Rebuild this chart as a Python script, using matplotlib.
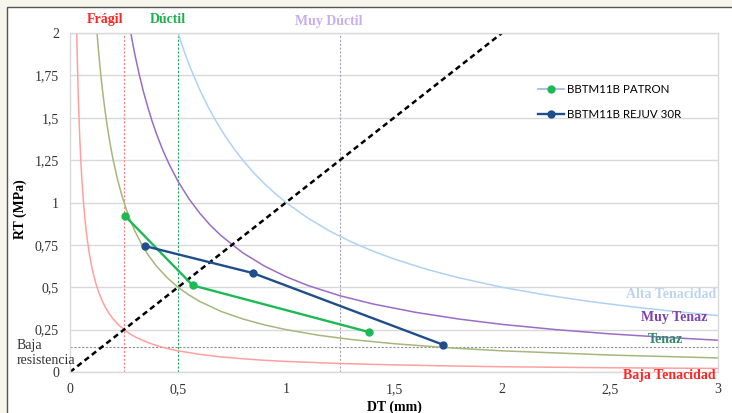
import matplotlib
matplotlib.use("Agg")
import matplotlib.pyplot as plt
from matplotlib.patches import Rectangle
from matplotlib.lines import Line2D
from matplotlib.ticker import FuncFormatter

# ensayo: DT (mm) y RT (MPa)
dt_patron = [0.255, 0.568, 1.383]
rt_patron = [0.92, 0.511, 0.236]
dt_rejuv = [0.347, 0.846, 1.727]
rt_rejuv = [0.743, 0.584, 0.161]

# curvas de tenacidad
dt_baja = [0.03, 0.0325, 0.035, 0.0375, 0.04, 0.0425, 0.045, 0.0475, 0.05, 0.055, 0.06,
           0.065, 0.07, 0.075, 0.08, 0.09, 0.1, 0.11, 0.12, 0.135, 0.15, 0.165, 0.18,
           0.2, 0.225, 0.25, 0.275, 0.3, 0.35, 0.4, 0.45, 0.5, 0.6, 0.7, 0.8, 0.9, 1.0,
           1.25, 1.5, 1.75, 2.0, 2.5, 3.0]
rt_baja = [2.083, 1.923, 1.786, 1.667, 1.563, 1.471, 1.389, 1.316, 1.25, 1.136, 1.042,
           0.962, 0.893, 0.833, 0.781, 0.694, 0.625, 0.568, 0.521, 0.463, 0.417, 0.379,
           0.347, 0.3125, 0.278, 0.25, 0.227, 0.208, 0.179, 0.156, 0.139, 0.125, 0.104,
           0.089, 0.078, 0.069, 0.0625, 0.05, 0.042, 0.036, 0.031, 0.025, 0.021]
dt_tenaz = [0.12, 0.13, 0.14, 0.15, 0.16, 0.17, 0.18, 0.19, 0.2, 0.22, 0.24, 0.26, 0.28,
            0.3, 0.33, 0.36, 0.4, 0.45, 0.5, 0.55, 0.6, 0.7, 0.8, 0.9, 1.0, 1.15, 1.3,
            1.5, 1.75, 2.0, 2.5, 3.0]
rt_tenaz = [2.083, 1.923, 1.786, 1.667, 1.563, 1.471, 1.389, 1.316, 1.25, 1.136, 1.042,
            0.962, 0.893, 0.833, 0.758, 0.694, 0.625, 0.556, 0.5, 0.455, 0.417, 0.357,
            0.313, 0.278, 0.25, 0.217, 0.192, 0.167, 0.143, 0.125, 0.1, 0.083]
dt_muy_tenaz = [0.28, 0.3, 0.32, 0.34, 0.36, 0.38, 0.4, 0.43, 0.46, 0.5, 0.55, 0.6, 0.65,
                0.7, 0.8, 0.9, 1.0, 1.1, 1.25, 1.4, 1.6, 1.8, 2.0, 2.25, 2.5, 2.75, 3.0]
rt_muy_tenaz = [2.009, 1.875, 1.758, 1.654, 1.563, 1.480, 1.406, 1.308, 1.223, 1.125,
                1.023, 0.938, 0.865, 0.804, 0.703, 0.625, 0.5625, 0.511, 0.45, 0.402,
                0.352, 0.3125, 0.281, 0.25, 0.225, 0.205, 0.1875]
dt_alta = [0.5, 0.53, 0.56, 0.6, 0.64, 0.68, 0.72, 0.76, 0.8, 0.85, 0.9, 0.95, 1.0, 1.1,
           1.2, 1.3, 1.4, 1.5, 1.65, 1.8, 2.0, 2.2, 2.4, 2.6, 2.8, 3.0]
rt_alta = [2.0, 1.887, 1.786, 1.667, 1.563, 1.471, 1.389, 1.316, 1.25, 1.176, 1.111,
           1.053, 1.0, 0.909, 0.833, 0.769, 0.714, 0.667, 0.606, 0.556, 0.5, 0.455,
           0.417, 0.385, 0.357, 0.333]

dt_diag = [0, 2]
rt_diag = [0, 2]

lim_fragil = 0.25
lim_ductil = 0.5
lim_muy_ductil = 1.25
lim_baja_res = 0.15

x_ticks = [0, 0.5, 1, 1.5, 2, 2.5, 3]
y_ticks = [0, 0.25, 0.5, 0.75, 1, 1.25, 1.5, 1.75, 2]

serif = "Liberation Serif"
sans = "Lato"

fig = plt.figure(figsize=(7.32, 4.13), dpi=100)
fig.patch.set_facecolor("#f6f6ec")
fig.patches.append(Rectangle((7 / 732, -0.1), 1.1, (413 - 7) / 413 + 0.1,
                             transform=fig.transFigure, facecolor="white",
                             edgecolor="#555555", lw=1.0, zorder=-10))

ax = fig.add_axes([70 / 732, 41 / 413, 648 / 732, 339 / 413])
ax.set_facecolor("none")
ax.set_xlim(0, 3)
ax.set_ylim(0, 2)
ax.set_xticks(x_ticks)
ax.set_yticks(y_ticks)
fmt = FuncFormatter(lambda v, p: ("%g" % v).replace(".", ","))
ax.xaxis.set_major_formatter(fmt)
ax.yaxis.set_major_formatter(fmt)
ax.tick_params(length=0, labelsize=10, pad=8)
for lab in ax.get_xticklabels() + ax.get_yticklabels():
    lab.set_fontfamily(serif)
    lab.set_color("#333333")
ax.grid(axis="y", color="#d9d9d9", lw=1.0)
for s in ax.spines.values():
    s.set_color("#d9d9d9")
    s.set_linewidth(1.0)

# lineas limite
ax.axvline(lim_fragil, color="#ff8080", ls=(0, (2, 1.5)), lw=0.8)
ax.axvline(lim_ductil, color="#20a860", ls=(0, (2, 1.5)), lw=0.8)
ax.axvline(lim_muy_ductil, color="#a8a0b8", ls=(0, (2, 1.5)), lw=0.8)
ax.axhline(lim_baja_res, color="#909090", ls=(0, (2, 1.5)), lw=0.8)

kw = dict(lw=1.1, solid_joinstyle="round")
ax.plot(dt_baja, rt_baja, color="#ffa0a0", **kw)
ax.plot(dt_tenaz, rt_tenaz, color="#a8b67c", **kw)
ax.plot(dt_muy_tenaz, rt_muy_tenaz, color="#9b6cc6", **kw)
ax.plot(dt_alta, rt_alta, color="#aed2f6", **kw)

ax.plot(dt_diag, rt_diag, color="black", lw=1.8, ls=(0, (2.2, 1.5)))

ax.plot(dt_patron, rt_patron, color="#1db954", lw=1.7, marker="o", ms=5)
ax.plot(dt_rejuv, rt_rejuv, color="#1f4e8c", lw=1.7, marker="o", ms=5)

# textos
tk = dict(family=serif, fontweight="bold", fontsize=10, clip_on=False)
ax.text(0.162, 2.08, "Frágil", color="#ff2525", ha="center", va="center", **tk)
ax.text(0.454, 2.08, "Dúctil", color="#20b050", ha="center", va="center", **tk)
ax.text(1.2, 2.07, "Muy Dúctil", color="#c9adf2", ha="center", va="center", **tk)
ax.text(2.99, 0.46, "Alta Tenacidad", color="#bcd4f0", ha="right", va="center", **tk)
ax.text(2.95, 0.324, "Muy Tenaz", color="#8040b0", ha="right", va="center", **tk)
ax.text(2.755, 0.189, "Tenaz", color="#2e8b67", ha="center", va="center", **tk)
ax.text(2.99, -0.02, "Baja Tenacidad", color="#ff2525", ha="right", va="center", **tk)
fig.text(17 / 732, 1 - 353 / 413, "Baja\nresistencia", family=serif, fontsize=10,
         color="#333333", ha="left", va="center", linespacing=1.25)

ax.set_xlabel("DT (mm)", family=serif, fontweight="bold", fontsize=10, labelpad=3)
ax.set_ylabel("RT (MPa)", family=serif, fontweight="bold", fontsize=10)
ax.yaxis.set_label_coords(-0.066, 0.48)

handles = [
    Line2D([], [], color="#9fb4e6", lw=1.2, marker="o", ms=5,
           markerfacecolor="#1db954", markeredgecolor="#1db954"),
    Line2D([], [], color="#1f4e8c", lw=1.7, marker="o", ms=5),
]
fig.legend(handles, ["BBTM11B PATRON", "BBTM11B REJUV 30R"], loc="upper left",
           bbox_to_anchor=(528 / 732, 1 - 74 / 413), frameon=False,
           prop={"family": sans, "size": 8.3}, handlelength=2.2, handletextpad=0.3,
           labelspacing=1.2)

fig.savefig("out.png", dpi=100, facecolor=fig.get_facecolor())
